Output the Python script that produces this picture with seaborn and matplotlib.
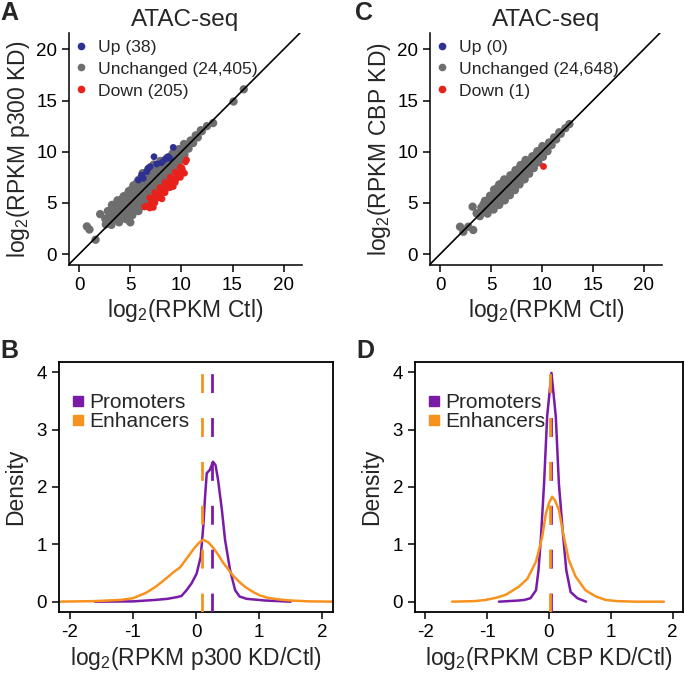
import matplotlib
matplotlib.use("Agg")
import matplotlib.pyplot as plt
from matplotlib.lines import Line2D
import seaborn as sns
import pandas as pd

# ---------------- data ----------------
# Panel A: log2(RPKM Ctl) vs log2(RPKM p300 KD)
a_unchanged = [
    (3.15, 2.85), (2.85, 3.15), (2.55, 3.45),
    (3.9, 3.1), (3.6, 3.4), (3.3, 3.7), (3.0, 4.0), (2.8, 4.2),
    (4.6, 3.4), (4.3, 3.7), (4.0, 4.0), (3.7, 4.3), (3.4, 4.6), (3.2, 4.8),
    (5.2, 3.8), (4.9, 4.1), (4.6, 4.4), (4.3, 4.7), (4.0, 5.0), (3.75, 5.25),
    (5.8, 4.2), (5.5, 4.5), (5.2, 4.8), (4.9, 5.1), (4.6, 5.4), (4.35, 5.65),
    (6.25, 4.75), (5.95, 5.05), (5.65, 5.35), (5.35, 5.65), (5.05, 5.95), (4.85, 6.15),
    (6.7, 5.3), (6.4, 5.6), (6.1, 5.9), (5.8, 6.2), (5.5, 6.5), (5.3, 6.7),
    (7.15, 5.85), (6.85, 6.15), (6.55, 6.45), (6.25, 6.75), (5.95, 7.05), (5.78, 7.22),
    (7.6, 6.4), (7.3, 6.7), (7.0, 7.0), (6.7, 7.3), (6.4, 7.6), (6.2, 7.9),
    (8.1, 6.9), (7.8, 7.2), (7.5, 7.5), (7.2, 7.8), (6.95, 8.05), (6.75, 8.3),
    (8.55, 7.45), (8.25, 7.75), (7.95, 8.05), (7.7, 8.3), (7.5, 8.5), (7.3, 8.75),
    (9.0, 8.0), (8.7, 8.3), (8.4, 8.6), (8.15, 8.85), (7.95, 9.1),
    (9.45, 8.55), (9.15, 8.85), (8.85, 9.15), (8.6, 9.4),
    (9.85, 9.15), (9.6, 9.4), (9.35, 9.65), (9.15, 9.85),
    (10.3, 9.7), (10.0, 10.0), (9.75, 10.25),
    (10.7, 10.3), (10.45, 10.55), (10.25, 10.75),
    (11.15, 10.85), (10.9, 11.1),
    (11.6, 11.4), (11.4, 11.6),
    (12.0, 12.0), (11.9, 12.1), (12.5, 12.5),
    (4.75, 3.75), (4.45, 4.05), (4.15, 4.35), (3.85, 4.65), (3.6, 4.9),
    (5.3, 4.2), (5.0, 4.5), (4.7, 4.8), (4.4, 5.1), (4.15, 5.35),
    (5.9, 4.6), (5.6, 4.9), (5.3, 5.2), (5.0, 5.5), (4.7, 5.8),
    (6.35, 5.15), (6.05, 5.45), (5.75, 5.75), (5.45, 6.05), (5.15, 6.35),
    (6.8, 5.7), (6.5, 6.0), (6.2, 6.3), (5.9, 6.6), (5.6, 6.9),
    (7.25, 6.25), (6.95, 6.55), (6.65, 6.85), (6.35, 7.15), (6.05, 7.45),
    (7.7, 6.8), (7.4, 7.1), (7.1, 7.4), (6.8, 7.7), (6.55, 7.95),
    (8.2, 7.3), (7.9, 7.6), (7.6, 7.9), (7.3, 8.2),
    (8.65, 7.85), (8.35, 8.15), (8.05, 8.45), (7.8, 8.7),
    (9.1, 8.4), (8.8, 8.7), (8.5, 9.0),
    (9.55, 8.95), (9.25, 9.25), (8.95, 9.55),
    (0.75, 2.7), (1.0, 2.4), (1.6, 1.4), (2.05, 3.9), (2.6, 2.9), (5.0, 3.1),
    (13.1, 12.8), (15.1, 14.9), (16.1, 16.1),
]
a_up = [
    (5.79, 7.23), (6.11, 7.72), (6.27, 7.40), (6.60, 8.05), (6.76, 8.38),
    (6.93, 8.54), (7.32, 9.51), (7.58, 8.80), (8.06, 8.93), (8.39, 9.25),
    (8.71, 9.51), (8.88, 9.35), (9.20, 10.42),
]
a_down = [
    (6.9, 5.5), (7.4, 6.0), (7.9, 6.5), (8.4, 7.0), (8.9, 7.5), (9.4, 8.0), (9.9, 8.5), (10.4, 9.0),
    (7.05, 5.4), (7.55, 5.9), (8.05, 6.4), (8.55, 6.9), (9.05, 7.4), (9.55, 7.9), (10.05, 8.4),
    (6.6, 4.7), (7.1, 5.2), (7.6, 5.7), (8.1, 6.2), (8.6, 6.7), (9.1, 7.2), (9.6, 7.7), (10.1, 8.2),
    (7.0, 4.85), (7.5, 5.35), (8.0, 5.85), (8.5, 6.35), (9.0, 6.85), (9.5, 7.35), (10.0, 7.85),
    (6.9, 4.5), (7.4, 5.0), (7.9, 5.5), (8.4, 6.0), (8.9, 6.5), (9.4, 7.0), (9.9, 7.5), (10.3, 7.9),
    (6.4, 4.6), (7.25, 4.56), (10.5, 9.2), (8.1, 5.4), (9.2, 6.6), (10.0, 8.0),
]
a_labels = ["Up (38)", "Unchanged (24,405)", "Down (205)"]

# Panel C: log2(RPKM Ctl) vs log2(RPKM CBP KD)
c_unchanged = [
    (3.9, 3.7), (3.65, 3.95),
    (4.65, 3.95), (4.35, 4.25), (4.05, 4.55),
    (5.25, 4.35), (4.95, 4.65), (4.65, 4.95), (4.4, 5.2),
    (5.8, 4.8), (5.5, 5.1), (5.2, 5.4), (4.9, 5.7),
    (6.35, 5.25), (6.05, 5.55), (5.75, 5.85), (5.45, 6.15), (5.3, 6.3),
    (6.85, 5.75), (6.55, 6.05), (6.25, 6.35), (5.95, 6.65), (5.8, 6.8),
    (7.35, 6.25), (7.05, 6.55), (6.75, 6.85), (6.45, 7.15), (6.3, 7.3),
    (7.8, 6.8), (7.5, 7.1), (7.2, 7.4), (6.9, 7.7),
    (8.3, 7.3), (8.0, 7.6), (7.7, 7.9), (7.4, 8.2),
    (8.75, 7.85), (8.45, 8.15), (8.15, 8.45), (7.9, 8.7),
    (9.2, 8.4), (8.9, 8.7), (8.6, 9.0), (8.4, 9.2),
    (9.65, 8.95), (9.35, 9.25), (9.05, 9.55),
    (10.1, 9.5), (9.8, 9.8), (9.55, 10.05),
    (10.55, 10.05), (10.25, 10.35), (10.05, 10.55),
    (10.95, 10.65), (10.7, 10.9),
    (11.4, 11.2), (11.2, 11.4),
    (11.85, 11.75), (11.7, 11.9),
    (12.3, 12.3), (12.7, 12.7),
    (4.8, 4.3), (4.5, 4.6), (4.25, 4.85),
    (5.4, 4.7), (5.1, 5.0), (4.8, 5.3),
    (5.95, 5.15), (5.65, 5.45), (5.35, 5.75),
    (6.45, 5.65), (6.15, 5.95), (5.85, 6.25), (5.63, 6.48),
    (6.95, 6.15), (6.65, 6.45), (6.35, 6.75), (6.13, 6.98),
    (7.4, 6.7), (7.1, 7.0), (6.8, 7.3),
    (7.9, 7.2), (7.6, 7.5), (7.3, 7.8),
    (8.35, 7.75), (8.05, 8.05), (7.75, 8.35),
    (8.8, 8.3), (8.5, 8.6), (8.25, 8.85),
    (9.25, 8.85), (8.95, 9.15),
    (9.7, 9.4), (9.4, 9.7),
    (10.15, 9.95), (9.9, 10.2),
    (1.95, 2.67), (2.28, 2.18), (2.76, 2.67), (3.25, 2.35), (3.19, 4.63), (3.58, 3.98),
]
c_up = []
c_down = [(10.08, 8.63)]
c_labels = ["Up (0)", "Unchanged (24,648)", "Down (1)"]

# Panel B: density of log2(RPKM p300 KD/Ctl)
b_prom_x = [-1.6, -1.0, -0.65, -0.45, -0.3, -0.23, -0.15, -0.07, 0.01, 0.074, 0.115, 0.14,
            0.17, 0.22, 0.27, 0.31, 0.35, 0.41, 0.46, 0.54, 0.62, 0.69, 0.8, 0.9, 1.1, 1.5]
b_prom_y = [0.0, 0.005, 0.03, 0.05, 0.08, 0.10, 0.20, 0.32, 0.49, 0.78, 1.31, 1.77,
            2.24, 2.30, 2.44, 2.38, 2.12, 1.60, 1.08, 0.55, 0.20, 0.09, 0.05, 0.04, 0.02, 0.0]
b_enh_x = [-2.2, -1.6, -1.2, -1.0, -0.8, -0.65, -0.5, -0.35, -0.25, -0.13, -0.03, 0.05, 0.115,
           0.2, 0.28, 0.35, 0.43, 0.5, 0.59, 0.7, 0.8, 0.92, 1.01, 1.13, 1.3, 1.5, 1.8, 2.2]
b_enh_y = [0.0, 0.01, 0.03, 0.06, 0.15, 0.25, 0.38, 0.52, 0.60, 0.78, 0.93, 1.03, 1.08,
           1.03, 0.93, 0.82, 0.68, 0.58, 0.45, 0.33, 0.24, 0.16, 0.11, 0.07, 0.04, 0.02, 0.005, 0.0]
b_medians = {"Enhancers": 0.10, "Promoters": 0.25}

# Panel D: density of log2(RPKM CBP KD/Ctl)
d_prom_x = [-0.81, -0.5, -0.4, -0.3, -0.21, -0.17, -0.13, -0.08, -0.03, 0.04,
            0.11, 0.16, 0.23, 0.28, 0.35, 0.46, 0.6]
d_prom_y = [0.0, 0.02, 0.03, 0.06, 0.20, 0.55, 1.13, 2.06, 3.23, 3.99,
            3.23, 2.06, 1.13, 0.55, 0.17, 0.06, 0.0]
d_enh_x = [-1.57, -1.2, -1.03, -0.85, -0.7, -0.49, -0.35, -0.21, -0.11, -0.05, 0.0, 0.05,
           0.1, 0.16, 0.24, 0.32, 0.43, 0.59, 0.76, 0.92, 1.1, 1.4, 1.86]
d_enh_y = [0.0, 0.01, 0.03, 0.07, 0.12, 0.26, 0.40, 0.70, 1.13, 1.54, 1.72, 1.83,
           1.76, 1.60, 1.13, 0.73, 0.44, 0.20, 0.09, 0.03, 0.01, 0.0, 0.0]
d_medians = {"Enhancers": 0.02, "Promoters": 0.04}

scatter_ticks = [0, 5, 10, 15, 20]
density_xticks = [-2, -1, 0, 1, 2]
density_yticks = [0, 1, 2, 3, 4]

# ---------------- style ----------------
sns.set_theme(style="white")
plt.rcParams["font.family"] = ["Liberation Sans", "DejaVu Sans"]
plt.rcParams["mathtext.default"] = "regular"
plt.rcParams["axes.unicode_minus"] = False

C_UP = "#2E3192"
C_UN = "#6E6E6E"
C_DOWN = "#E8221B"
C_PROM = "#7A1BA8"
C_ENH = "#F7921E"

TICK_FS = 13.5
LABEL_FS = 16.5
TITLE_FS = 17.5

fig = plt.figure(figsize=(6.85, 6.75), dpi=100)
W, H = 685, 675


def px_axes(l, t, r, b):
    return fig.add_axes([l / W, 1 - b / H, (r - l) / W, (b - t) / H])


def style_ticks(ax):
    ax.tick_params(axis="both", which="both", direction="out", length=5, width=1.1,
                   labelsize=TICK_FS, pad=3.5, colors="black", bottom=True, left=True)


def scatter_panel(ax, unchanged, up, down, labels, ylabel):
    df_un = pd.DataFrame(unchanged, columns=["ctl", "kd"])
    df_un["status"] = labels[1]
    df_ch = pd.DataFrame(up + down, columns=["ctl", "kd"])
    df_ch["status"] = [labels[0]] * len(up) + [labels[2]] * len(down)
    pal = {labels[0]: C_UP, labels[1]: C_UN, labels[2]: C_DOWN}
    sns.scatterplot(data=df_un, x="ctl", y="kd", hue="status", palette=pal, s=36,
                    linewidth=0, ax=ax, legend=False, zorder=2)
    if len(df_ch):
        sns.scatterplot(data=df_ch, x="ctl", y="kd", hue="status", palette=pal, s=24,
                        linewidth=0, ax=ax, legend=False, zorder=2)
    ax.set_xlim(-1.0, 21.8)
    ax.set_ylim(-1.07, 21.6)
    ax.axline((0, 0), slope=1, color="black", lw=1.2, zorder=3)
    ax.set_xticks(scatter_ticks)
    ax.set_yticks(scatter_ticks)
    for s in ["top", "right"]:
        ax.spines[s].set_visible(False)
    for s in ["left", "bottom"]:
        ax.spines[s].set_color("black")
        ax.spines[s].set_linewidth(1.1)
    style_ticks(ax)
    ax.set_xlabel("log$_2$(RPKM Ctl)", fontsize=LABEL_FS, labelpad=2)
    ax.set_ylabel(ylabel, fontsize=LABEL_FS, labelpad=3)
    ax.set_title("ATAC-seq", fontsize=TITLE_FS, pad=5)
    handles = [Line2D([], [], marker="o", ls="", color=c, markersize=4.5)
               for c in (C_UP, C_UN, C_DOWN)]
    ax.legend(handles, labels, loc="upper left", bbox_to_anchor=(-0.045, 1.025), frameon=False,
              fontsize=12.6, handletextpad=0.35, handlelength=1.2, labelspacing=0.38,
              borderaxespad=0.3)


def density_panel(ax, px_, py_, ex, ey, medians, xlabel):
    df = pd.concat([
        pd.DataFrame({"lfc": px_, "density": py_, "region": "Promoters"}),
        pd.DataFrame({"lfc": ex, "density": ey, "region": "Enhancers"}),
    ])
    pal = {"Promoters": C_PROM, "Enhancers": C_ENH}
    sns.lineplot(data=df, x="lfc", y="density", hue="region", palette=pal,
                 estimator=None, sort=False, lw=1.8, ax=ax, legend=False)
    ax.axvline(medians["Promoters"], color=C_PROM, lw=2, ls=(0, (6.8, 9.0)), zorder=4)
    ax.axvline(medians["Enhancers"], color=C_ENH, lw=2, ls=(0, (6.8, 9.0)), zorder=4)
    ax.set_xlim(-2.17, 2.17)
    ax.set_ylim(-0.18, 4.18)
    ax.set_xticks(density_xticks)
    ax.set_yticks(density_yticks)
    for s in ax.spines.values():
        s.set_visible(True)
        s.set_color("black")
        s.set_linewidth(1.3)
    style_ticks(ax)
    ax.set_xlabel(xlabel, fontsize=LABEL_FS, labelpad=3)
    ax.set_ylabel("Density", fontsize=LABEL_FS, labelpad=7)
    handles = [Line2D([], [], marker="s", ls="", color=c, markersize=6.5)
               for c in (C_PROM, C_ENH)]
    ax.legend(handles, ["Promoters", "Enhancers"], loc="upper left",
              bbox_to_anchor=(-0.005, 0.925), frameon=False, fontsize=15,
              handletextpad=0.1, handlelength=0.8, labelspacing=0.0, borderaxespad=0.2)


axA = px_axes(69, 33, 302, 265)
scatter_panel(axA, a_unchanged, a_up, a_down, a_labels, "log$_2$(RPKM p300 KD)")
axC = px_axes(430, 33, 662, 265)
scatter_panel(axC, c_unchanged, c_up, c_down, c_labels, "log$_2$(RPKM CBP KD)")

axB = px_axes(59, 362, 333, 612)
density_panel(axB, b_prom_x, b_prom_y, b_enh_x, b_enh_y, b_medians, "log$_2$(RPKM p300 KD/Ctl)")
axD = px_axes(415, 362, 683, 612)
density_panel(axD, d_prom_x, d_prom_y, d_enh_x, d_enh_y, d_medians, "log$_2$(RPKM CBP KD/Ctl)")

for letter, x, y in [("A", 0, 1), ("C", 355, 1), ("B", 0, 339), ("D", 356, 339)]:
    fig.text(x / W, 1 - y / H, letter, fontsize=18, fontweight="bold", ha="left", va="top")

fig.savefig("out.png", dpi=100)
